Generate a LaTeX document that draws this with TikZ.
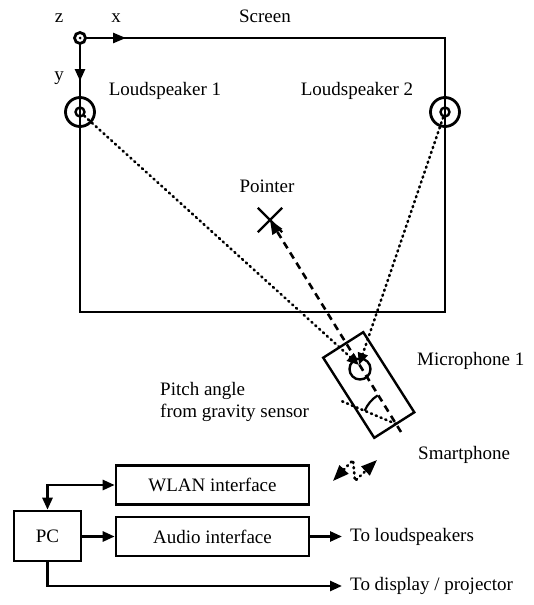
\documentclass[tikz,border=0pt]{standalone}
\usepackage{fontspec}
\setmainfont{Liberation Serif}
\usetikzlibrary{arrows.meta,shapes.misc}
\begin{document}
\begin{tikzpicture}[x=1pt,y=-1pt,
  every node/.style={font=\fontsize{19}{22}\selectfont},
  lbl/.style={inner sep=0pt},
  heavy/.style={line width=2.6pt},
  conn/.style={line width=2.6pt},
  tipA/.style={-{Triangle[length=12pt,width=10pt]}},
  dotline/.style={line width=2.6pt, line cap=round, dash pattern=on 1.2pt off 4pt},
  dashline/.style={line width=2.6pt, dash pattern=on 7pt off 5pt},
  blk/.style={draw, line width=2.6pt, inner sep=0pt},
  spkin/.style={circle, draw, line width=2.4pt, minimum size=9pt, inner sep=0pt},
  spkout/.style={circle, draw, line width=2.8pt, minimum size=29pt, inner sep=0pt},
]
\useasboundingbox (0,0) rectangle (534,605);

% screen
\node[draw, line width=1.3pt, minimum width=365pt, minimum height=274pt, inner sep=0pt] (screen) at (262.5,175) {};

% axes
\coordinate (O) at (80,38);
\coordinate (xt) at (126,38);
\coordinate (yt) at (80,81);
\draw[heavy, -{Triangle[length=13pt,width=10pt]}] (O) -- (xt);
\draw[heavy, -{Triangle[length=12pt,width=10pt]}] (O) -- (yt);
\node[circle, draw, fill=white, line width=2.8pt, minimum size=11pt, inner sep=0pt] (orig) at (O) {};
\fill (orig.center) circle[radius=1.5];

\node[lbl, anchor=base] (zl) at (59,22) {z};
\node[lbl, anchor=base] (xl) at (116,22) {x};
\node[lbl, anchor=base] (yl) at (59,80) {y};
\node[lbl, anchor=base] (scr) at (265,22) {Screen};

% loudspeakers
\node[spkin] (L1) at (80,112) {};
\node[spkout] (L1o) at (80,112) {};
\node[spkin] (L2) at (445,112) {};
\node[spkout] (L2o) at (445,112) {};
\node[lbl, anchor=base] (L1l) at (165,95) {Loudspeaker 1};
\node[lbl, anchor=base] (L2l) at (357,95) {Loudspeaker 2};

% pointer
\node[cross out, draw, line width=2.4pt, minimum size=22pt, inner sep=0pt] (P) at (270,220) {};
\node[lbl, anchor=base] (Pl) at (267,192.5) {Pointer};

% smartphone
\node[draw, line width=2.4pt, minimum width=95pt, minimum height=47.5pt, inner sep=0pt, rotate=-57.5] (phone) at (368.75,385) {};
\node[circle, draw, line width=2.4pt, minimum size=21pt, inner sep=0pt] (mic) at (360,369) {};
\coordinate (mtip) at (359,365);
\coordinate (axend) at (401,432);
\coordinate (H) at (396,424);
\coordinate (Hl) at (339,400);

\draw[dashline, -{Triangle[length=14pt,width=11pt]}] (axend) -- (P.center);
\draw[dotline, -{Triangle[length=12pt,width=10pt]}] (L1) -- (mtip);
\draw[dotline, -{Triangle[length=12pt,width=10pt]}] (L2) -- (mtip);
\draw[dotline] (H) -- (Hl);
\draw[line width=2.2pt] ([shift={(202.8:34)}]H) arc[start angle=202.8,end angle=237.5,radius=34];

\node[lbl, anchor=base west] (micl) at (417,365) {Microphone 1};
\node[lbl, anchor=base west] (phl) at (418,459) {Smartphone};
\node[lbl, anchor=base west] (pa1) at (160,395) {Pitch angle};
\node[lbl, anchor=base west] (pa2) at (160,417) {from gravity sensor};

% wireless
\coordinate (w1) at (333,481);
\coordinate (w2) at (353,460);
\coordinate (w3) at (355,481);
\coordinate (w4) at (377,460);
\draw[dotline, {Triangle[length=16pt,width=12pt]}-{Triangle[length=16pt,width=12pt]}] (w1) -- (w2) -- (w3) -- (w4);

% blocks
\node[blk, minimum width=193pt, minimum height=39pt] (wlan) at (212.5,485) {WLAN interface};
\node[blk, minimum width=193pt, minimum height=39pt] (audio) at (212.5,536.5) {Audio interface};
\node[blk, minimum width=67pt, minimum height=50pt] (pc) at (47.5,536) {PC};

\node[lbl, anchor=west, inner xsep=8pt] (tols) at (342,536.5) {To loudspeakers};
\node[lbl, anchor=west, inner xsep=8pt] (todisp) at (342,586) {To display / projector};

\draw[conn, {Triangle[length=12pt,width=10pt]}-{Triangle[length=12pt,width=10pt]}] (pc.north) |- (wlan.west);
\draw[conn, tipA] (pc.east |- audio.west) -- (audio.west);
\draw[conn, tipA] (audio.east) -- (tols.west);
\draw[conn, tipA] (pc.south) |- (todisp.west);
\end{tikzpicture}
\end{document}
